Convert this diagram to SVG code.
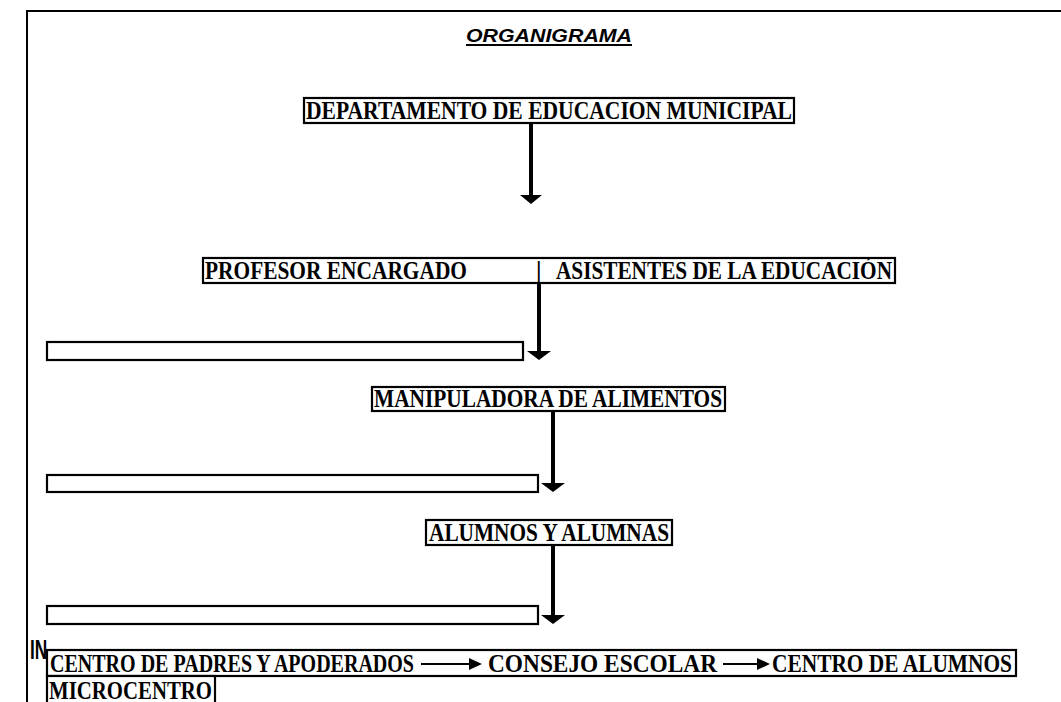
<svg xmlns="http://www.w3.org/2000/svg" width="1061" height="702" viewBox="0 0 1061 702">
<style>
.frame{fill:none;stroke:#000;stroke-width:2}
.box{fill:#fff;stroke:#000;stroke-width:2.2}
.t{font-family:"Liberation Serif","Times New Roman",serif;font-weight:bold;font-size:25px;fill:#000}
.title{font-family:"Liberation Sans",Arial,sans-serif;font-weight:bold;font-style:italic;font-size:19px;fill:#000}
.in{font-family:"Liberation Sans",Arial,sans-serif;font-weight:bold;font-size:27px;fill:#000}
.shaft{stroke:#000;stroke-width:4;fill:none}
.thin{stroke:#000;stroke-width:2;fill:none}
.head{fill:#000}
</style>
<rect x="0" y="0" width="1061" height="702" fill="#fff"/>
<path class="frame" d="M27,702 V11 H1061"/>
<g id="title">
<text class="title" x="466" y="42" textLength="166" lengthAdjust="spacingAndGlyphs">ORGANIGRAMA</text>
<rect x="466" y="44" width="166" height="2" fill="#000"/>
</g>
<g id="in-text"><text class="in" transform="scale(0.64,1)" x="46.9" y="659">IN</text></g>
<g id="connectors">
<line class="shaft" x1="531" y1="123" x2="531" y2="196"/>
<polygon class="head" points="520,195 542,195 531,204"/>
<line class="shaft" x1="539" y1="283" x2="539" y2="352"/>
<polygon class="head" points="527,351 551,351 539,360"/>
<line class="shaft" x1="553" y1="411" x2="553" y2="484"/>
<polygon class="head" points="541,483 565,483 553,492"/>
<line class="shaft" x1="553" y1="545" x2="553" y2="616"/>
<polygon class="head" points="541,615 565,615 553,624"/>
</g>
<g id="n-departamento">
<rect class="box" x="304" y="98" width="490" height="25"/>
<text class="t" x="306" y="119" textLength="486" lengthAdjust="spacingAndGlyphs">DEPARTAMENTO DE EDUCACION MUNICIPAL</text>
</g>
<g id="n-profesor">
<rect class="box" x="203" y="258" width="692" height="25"/>
<text class="t" x="205" y="279" textLength="262" lengthAdjust="spacingAndGlyphs">PROFESOR  ENCARGADO</text>
<text class="t" x="536" y="279">|</text>
<text class="t" x="556" y="279" textLength="336" lengthAdjust="spacingAndGlyphs">ASISTENTES DE LA EDUCACIÓN</text>
</g>
<g id="n-empty1"><rect class="box" x="47" y="342" width="476" height="18"/></g>
<g id="n-manipuladora">
<rect class="box" x="372" y="387" width="353" height="24"/>
<text class="t" x="374" y="407" textLength="348" lengthAdjust="spacingAndGlyphs">MANIPULADORA DE ALIMENTOS</text>
</g>
<g id="n-empty2"><rect class="box" x="47" y="475" width="491" height="17"/></g>
<g id="n-alumnos">
<rect class="box" x="426" y="520" width="246" height="25"/>
<text class="t" x="429" y="541" textLength="240" lengthAdjust="spacingAndGlyphs">ALUMNOS Y ALUMNAS</text>
</g>
<g id="n-empty3"><rect class="box" x="47" y="606" width="491" height="18"/></g>
<g id="n-centro">
<rect class="box" x="47" y="650" width="969" height="26"/>
<text class="t" x="50" y="672" textLength="364" lengthAdjust="spacingAndGlyphs">CENTRO DE  PADRES Y APODERADOS</text>
<line class="thin" x1="421" y1="664" x2="472" y2="664"/>
<polygon class="head" points="469,658 482,664 469,670"/>
<text class="t" x="488" y="672" textLength="229" lengthAdjust="spacingAndGlyphs">CONSEJO ESCOLAR</text>
<line class="thin" x1="723" y1="664" x2="760" y2="664"/>
<polygon class="head" points="757,658 770,664 757,670"/>
<text class="t" x="772" y="672" textLength="240" lengthAdjust="spacingAndGlyphs">CENTRO DE ALUMNOS</text>
</g>
<g id="n-microcentro">
<rect class="box" x="47" y="676" width="168" height="28"/>
<text class="t" x="49" y="699" textLength="163" lengthAdjust="spacingAndGlyphs">MICROCENTRO</text>
</g>
</svg>
